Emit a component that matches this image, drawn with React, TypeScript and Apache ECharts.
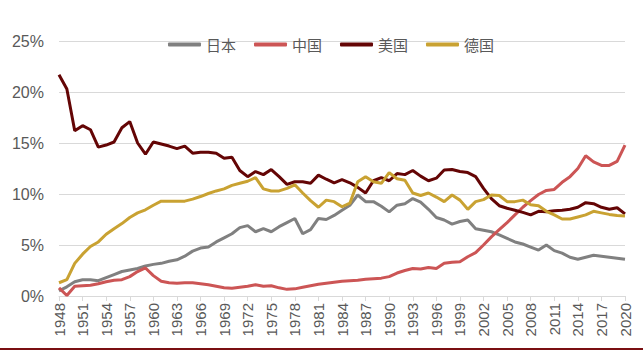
import React, { useEffect, useRef } from "react";
import * as echarts from "echarts";

const years: string[] = [];
for (let y = 1948; y <= 2020; y++) years.push(String(y));

const japan = [
  0.5, 0.9, 1.4, 1.6, 1.6, 1.5, 1.8, 2.1, 2.4, 2.55,
  2.7, 2.95, 3.1, 3.2, 3.4, 3.55, 3.9, 4.4, 4.7, 4.8,
  5.3, 5.7, 6.1, 6.7, 6.9, 6.3, 6.6, 6.3, 6.8, 7.2,
  7.6, 6.1, 6.5, 7.6, 7.5, 7.9, 8.4, 8.9, 9.9, 9.25,
  9.25, 8.8, 8.25, 8.9, 9.05, 9.55, 9.2, 8.5, 7.7, 7.45,
  7.05, 7.3, 7.45, 6.6, 6.45, 6.3, 6.0, 5.65, 5.3, 5.1,
  4.8, 4.5, 5.0, 4.45, 4.2, 3.8, 3.6, 3.8, 4.0, 3.9,
  3.8, 3.7, 3.6,
];

const china = [
  0.8, 0.05, 0.95, 1.0, 1.05, 1.2, 1.4, 1.55, 1.6, 1.9,
  2.4, 2.75, 2.0, 1.45, 1.3, 1.25, 1.3, 1.3, 1.2, 1.1,
  0.95, 0.8, 0.75, 0.85, 0.95, 1.1, 0.95, 1.0, 0.8, 0.65,
  0.7, 0.85, 1.0, 1.15, 1.25, 1.35, 1.45, 1.5, 1.55, 1.65,
  1.7, 1.75, 1.9, 2.25, 2.5, 2.7, 2.65, 2.8, 2.7, 3.2,
  3.3, 3.35, 3.85, 4.25, 5.0, 5.8, 6.5, 7.2, 7.95, 8.7,
  9.35, 9.95, 10.35, 10.45, 11.15, 11.7, 12.5, 13.75, 13.15, 12.8,
  12.8, 13.2, 14.8,
];

const usa = [
  21.7, 20.3, 16.2, 16.7, 16.3, 14.6, 14.8, 15.1, 16.5, 17.1,
  15.0, 13.9, 15.1, 14.9, 14.7, 14.45, 14.7, 14.0, 14.1, 14.1,
  14.0, 13.5, 13.6, 12.3, 11.7, 12.2, 11.9, 12.4, 11.7, 10.95,
  11.2, 11.2, 11.05, 11.85, 11.45, 11.1, 11.4, 11.1, 10.65, 10.1,
  11.3, 11.6, 11.3, 12.0, 11.9, 12.3, 11.75, 11.3, 11.55, 12.35,
  12.4, 12.2, 12.1, 11.7, 10.55, 9.55, 8.85, 8.6, 8.4, 8.2,
  7.95, 8.3, 8.25, 8.35, 8.4, 8.5, 8.7, 9.15, 9.05, 8.7,
  8.5, 8.65, 8.05,
];

const germany = [
  1.3, 1.6, 3.2, 4.1, 4.85, 5.3, 6.05, 6.6, 7.1, 7.7,
  8.15, 8.45, 8.9, 9.3, 9.3, 9.3, 9.3, 9.5, 9.75, 10.05,
  10.3, 10.5, 10.85, 11.05, 11.25, 11.6, 10.5, 10.3, 10.3, 10.55,
  10.9, 10.1, 9.35, 8.7, 9.4, 9.25, 8.75, 9.1, 11.2, 11.7,
  11.2, 11.05, 12.1, 11.5, 11.35, 10.1, 9.85, 10.1, 9.7, 9.25,
  9.9, 9.4, 8.5, 9.25, 9.45, 9.9, 9.85, 9.25, 9.25, 9.4,
  8.95, 8.85, 8.3, 7.95, 7.55, 7.55, 7.75, 7.95, 8.3, 8.15,
  8.0, 7.9, 7.85,
];

const seriesNames = ["日本", "中国", "美国", "德国"];
const seriesColors = ["#808080", "#CC5555", "#640505", "#C9A232"];
const seriesData = [japan, china, usa, germany];

export default function App() {
  const ref = useRef<HTMLDivElement>(null);
  useEffect(() => {
    document.body.style.margin = "0";
    if (!ref.current) return;
    const chart = echarts.init(ref.current, null, { renderer: "svg" });
    chart.setOption({
      animation: false,
      backgroundColor: "#ffffff",
      grid: { left: 59, right: 18, top: 41, bottom: 65 },
      legend: {
        top: 32,
        left: 163,
        itemWidth: 33,
        itemHeight: 4,
        itemGap: 18,
        icon: "roundRect",
        textStyle: {
          color: "#595959",
          fontSize: 15,
          fontFamily: "Noto Sans CJK SC",
        },
        data: seriesNames,
      },
      xAxis: {
        type: "category",
        data: years,
        boundaryGap: false,
        axisLine: { lineStyle: { color: "#D9D9D9", width: 1 } },
        axisTick: {
          show: true,
          interval: 2,
          length: 5,
          lineStyle: { color: "#D9D9D9" },
        },
        axisLabel: {
          interval: 2,
          rotate: 90,
          color: "#595959",
          fontSize: 15,
          fontFamily: "Liberation Sans, Arial, sans-serif",
          margin: 7,
        },
        splitLine: { show: false },
      },
      yAxis: {
        type: "value",
        min: 0,
        max: 25,
        interval: 5,
        axisLine: { show: false },
        axisTick: { show: false },
        axisLabel: {
          formatter: "{value}%",
          color: "#595959",
          fontSize: 16,
          fontFamily: "Liberation Sans, Arial, sans-serif",
          margin: 15,
        },
        splitLine: { lineStyle: { color: "#D9D9D9", width: 1 } },
      },
      series: seriesNames.map((name, i) => ({
        name,
        type: "line",
        data: seriesData[i],
        showSymbol: false,
        symbol: "none",
        lineStyle: { color: seriesColors[i], width: 3 },
        itemStyle: { color: seriesColors[i] },
      })),
      graphic: [
        {
          type: "line",
          shape: { x1: 0, y1: 349, x2: 643, y2: 349 },
          style: { stroke: "#7A0F12", lineWidth: 2 },
          silent: true,
        },
      ],
    });
    return () => chart.dispose();
  }, []);
  return <div ref={ref} style={{ width: 643, height: 361 }} />;
}
